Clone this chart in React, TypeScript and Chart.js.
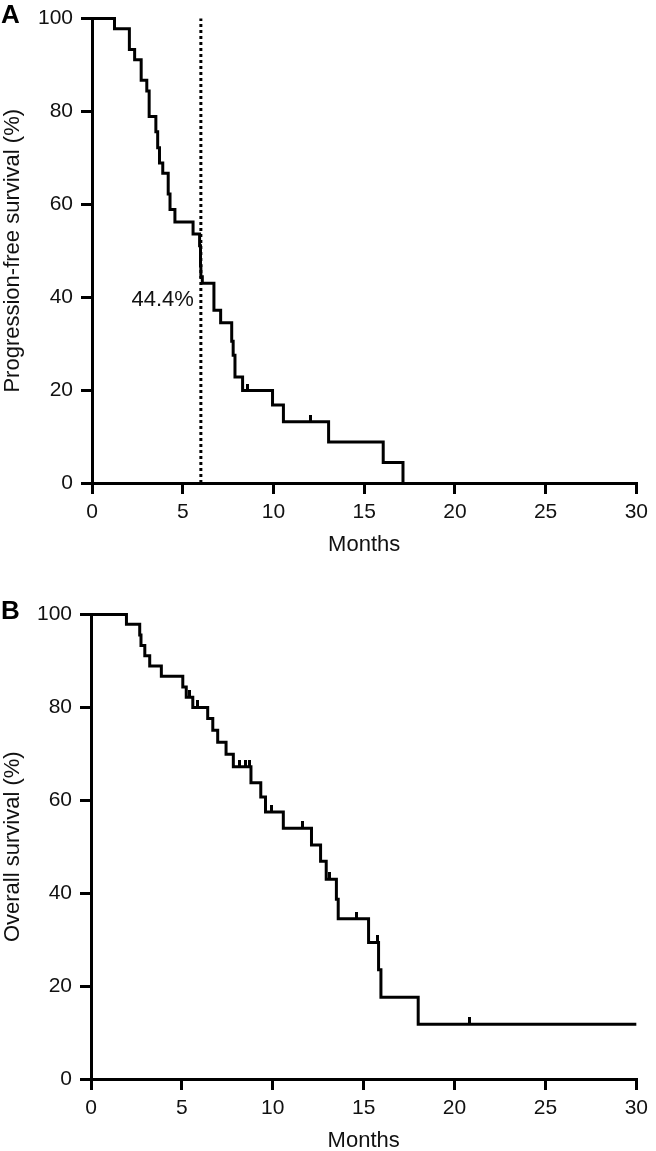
import React, { useEffect, useRef } from "react";
import { Chart, registerables } from "chart.js";

Chart.register(...registerables);

// ---------- data ----------
const MONTH_TICKS = [0, 5, 10, 15, 20, 25, 30];
const PCT_TICKS = [0, 20, 40, 60, 80, 100];

// Panel A: progression-free survival (Kaplan–Meier steps)
const PFS_MONTHS = [
  0, 1.24, 2.06, 2.35, 2.71, 3.02, 3.15, 3.52, 3.62, 3.72, 3.9, 4.2, 4.3, 4.57,
  5.57, 5.93, 5.98, 6.0, 6.08, 6.72, 7.09, 7.7, 7.78, 7.88, 8.3, 9.95, 10.55,
  13.04, 16.05, 17.14,
];
const PFS_PCT = [
  100, 97.8, 93.3, 91.1, 86.7, 84.4, 78.9, 75.6, 72.2, 68.9, 66.7, 62.2, 58.9,
  56.2, 53.6, 51.1, 46.7, 44.4, 43.0, 37.2, 34.5, 30.5, 27.5, 22.8, 19.9, 16.8,
  13.2, 8.8, 4.4, 0,
];
const PFS_CENSOR_MONTHS = [8.58, 12.04];
const PFS_LANDMARK_MONTH = 6;
const PFS_LANDMARK_TEXT = "44.4%";
const PFS_LANDMARK_TEXT_PCT = 39.5;

// Panel B: overall survival
const OS_MONTHS = [
  0, 1.95, 2.68, 2.75, 2.96, 3.23, 3.87, 5.05, 5.24, 5.6, 6.42, 6.7, 6.97, 7.43,
  7.83, 8.8, 9.34, 9.6, 10.58, 12.13, 12.63, 12.94, 13.5, 13.6, 15.27, 15.82,
  15.95, 18.0, 30,
];
const OS_PCT = [
  100, 97.9, 95.6, 93.3, 91.1, 88.9, 86.7, 84.4, 82.2, 80.0, 77.6, 75.1, 72.5,
  69.9, 67.2, 63.8, 60.7, 57.5, 54.0, 50.4, 46.9, 43.0, 38.7, 34.5, 29.4, 23.5,
  17.6, 11.8, 11.8,
];
const OS_CENSOR_MONTHS = [5.4, 5.86, 8.16, 8.52, 8.7, 9.92, 11.62, 13.1, 14.58, 15.78, 20.84];

// ---------- helpers ----------
const FONT = "'Liberation Sans', Arial, Helvetica, sans-serif";
const INK = "#111";

function survivalAt(months: number[], pct: number[], t: number) {
  let v = pct[0];
  for (let i = 0; i < months.length; i++) {
    if (months[i] <= t) v = pct[i];
  }
  return v;
}

function makeCensorMark() {
  const c = document.createElement("canvas");
  c.width = 3;
  c.height = 14;
  const g = c.getContext("2d")!;
  g.fillStyle = "#000";
  g.fillRect(0, 0, 3, 7);
  return c;
}

type PanelProps = {
  months: number[];
  pct: number[];
  censor: number[];
  yTitle: string;
  top: number;
  left: number;
  right: number;
  landmark?: { month: number; text: string; textPct: number };
};

function KMPanel(props: PanelProps) {
  const ref = useRef<HTMLCanvasElement | null>(null);

  useEffect(() => {
    const canvas = ref.current;
    if (!canvas) return;
    const { months, pct, censor, yTitle, left, right, landmark } = props;
    const W = 656;
    const H = 575;
    const areaTop = 12;
    const areaBottom = 483;
    const xAxisH = 75;

    const datasets: any[] = [
      {
        data: months.map((m, i) => ({ x: m, y: pct[i] })),
        stepped: true,
        borderColor: "#000",
        borderWidth: 3,
        pointRadius: 0,
        fill: false,
        clip: false,
        borderJoinStyle: "miter",
      },
      {
        data: censor.map((t) => ({ x: t, y: survivalAt(months, pct, t) })),
        showLine: false,
        pointStyle: makeCensorMark(),
        pointRadius: 3,
        clip: false,
      },
    ];
    if (landmark) {
      datasets.push({
        data: [
          { x: landmark.month, y: 0 },
          { x: landmark.month, y: 100 },
        ],
        borderColor: "#000",
        borderWidth: 3,
        borderDash: [3, 3],
        pointRadius: 0,
        clip: false,
      });
    }

    const landmarkPlugin = {
      id: "landmarkText",
      afterDraw(chart: any) {
        if (!landmark) return;
        const ctx = chart.ctx;
        const xs = chart.scales.x;
        const ys = chart.scales.y;
        ctx.save();
        ctx.font = `22px ${FONT}`;
        ctx.fillStyle = INK;
        ctx.textAlign = "right";
        ctx.textBaseline = "middle";
        ctx.fillText(landmark.text, xs.getPixelForValue(landmark.month) - 7, ys.getPixelForValue(landmark.textPct));
        ctx.restore();
      },
    };

    const chart = new Chart(canvas, {
      type: "line",
      data: { datasets },
      options: {
        responsive: false,
        animation: false,
        devicePixelRatio: 1,
        layout: {
          padding: { left: 0, right: W - right, top: areaTop, bottom: H - areaBottom - xAxisH },
        },
        plugins: { legend: { display: false }, tooltip: { enabled: false } },
        scales: {
          x: {
            type: "linear",
            min: 0,
            max: 30,
            afterBuildTicks: (s: any) => {
              s.ticks = MONTH_TICKS.map((v) => ({ value: v }));
            },
            afterFit: (s: any) => {
              s.height = xAxisH;
            },
            grid: {
              drawOnChartArea: false,
              drawTicks: true,
              tickLength: 11,
              lineWidth: 3,
              color: "#000",
            },
            border: { display: true, width: 3, color: "#000" },
            ticks: {
              color: INK,
              font: { family: FONT, size: 21, lineHeight: 1 },
              padding: 8,
              maxRotation: 0,
              autoSkip: false,
            },
            title: {
              display: true,
              text: "Months",
              color: INK,
              font: { family: FONT, size: 22, lineHeight: 1.2 },
              padding: { top: 0, bottom: 0 },
            },
          },
          y: {
            type: "linear",
            min: 0,
            max: 100,
            afterBuildTicks: (s: any) => {
              s.ticks = PCT_TICKS.map((v) => ({ value: v }));
            },
            afterFit: (s: any) => {
              s.width = left;
            },
            grid: {
              drawOnChartArea: false,
              drawTicks: true,
              tickLength: 11,
              lineWidth: 3,
              color: "#000",
            },
            border: { display: true, width: 3, color: "#000" },
            ticks: {
              color: INK,
              font: { family: FONT, size: 21, lineHeight: 1 },
              padding: 8,
              autoSkip: false,
            },
            title: {
              display: true,
              text: yTitle,
              color: INK,
              font: { family: FONT, size: 22, lineHeight: 1.2 },
              padding: { top: 0, bottom: 0 },
            },
          },
        },
      } as any,
      plugins: [landmarkPlugin],
    });

    return () => chart.destroy();
  }, []);

  return (
    <canvas
      ref={ref}
      width={656}
      height={575}
      style={{ position: "absolute", left: 0, top: props.top, width: 656, height: 575 }}
    />
  );
}

const letterStyle: React.CSSProperties = {
  position: "absolute",
  left: 1,
  fontFamily: FONT,
  fontWeight: "bold",
  fontSize: 26,
  lineHeight: "26px",
  color: "#000",
};

export default function App() {
  return (
    <div
      style={{
        position: "absolute",
        left: 0,
        top: 0,
        width: 656,
        height: 1151,
        overflow: "hidden",
        background: "#fff",
      }}
    >
      <KMPanel
        months={PFS_MONTHS}
        pct={PFS_PCT}
        censor={PFS_CENSOR_MONTHS}
        yTitle="Progression-free survival (%)"
        top={0}
        left={92}
        right={642}
        landmark={{ month: PFS_LANDMARK_MONTH, text: PFS_LANDMARK_TEXT, textPct: PFS_LANDMARK_TEXT_PCT }}
      />
      <KMPanel
        months={OS_MONTHS}
        pct={OS_PCT}
        censor={OS_CENSOR_MONTHS}
        yTitle="Overall survival (%)"
        top={596}
        left={91}
        right={639}
      />
      <div style={{ ...letterStyle, top: 1 }}>A</div>
      <div style={{ ...letterStyle, top: 597 }}>B</div>
    </div>
  );
}
